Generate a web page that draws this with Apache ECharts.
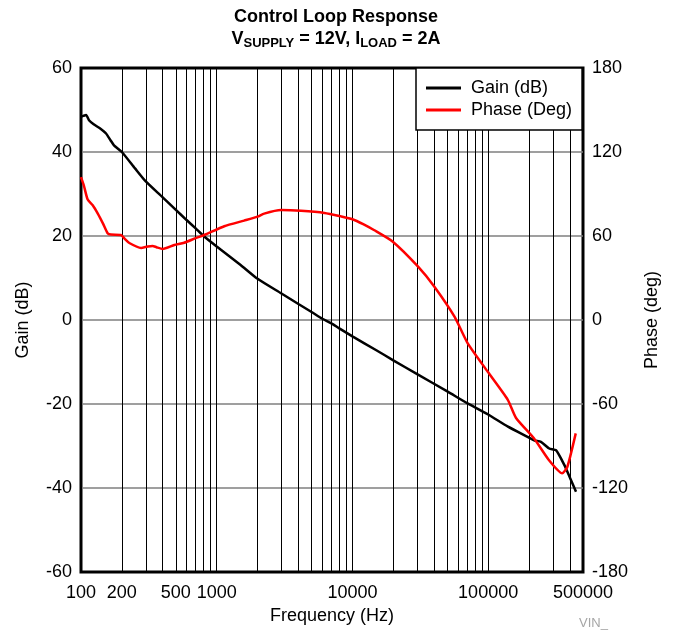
<!DOCTYPE html>
<html>
<head>
<meta charset="utf-8">
<script src="https://cdn.jsdelivr.net/npm/echarts@6/dist/echarts.min.js"></script>
<style>
  html, body { margin: 0; padding: 0; background: #fff; }
  #chart { width: 673px; height: 634px; }
</style>
</head>
<body>
<div id="chart"></div>
<script>
// values
const gainFreq = [100, 104, 109, 115, 124, 140, 153, 165, 175, 200, 250, 300, 400, 500, 600, 700, 800, 1000,
  1500, 2000, 3000, 4000, 5000, 6000, 7000, 8000, 10000, 15000, 20000, 30000, 50000, 70000, 100000,
  140000, 200000, 220000, 245000, 282000, 316000, 364000, 400000, 444000]
const gainDb = [48.4, 48.6, 48.8, 47.5, 46.6, 45.5, 44.4, 42.8, 41.6, 40.0, 36.1, 33.0, 29.2, 26.2, 23.8, 21.8, 20.0, 17.5,
  13.1, 9.8, 6.3, 3.8, 1.9, 0.3, -0.8, -2.0, -3.9, -7.2, -9.6, -12.9, -17.0, -19.8, -22.5,
  -25.4, -28.0, -28.7, -29.0, -30.6, -31.0, -34.5, -37.5, -40.9]

const phaseFreq = [100, 105, 112, 122, 133, 145, 157, 166, 197, 210, 227, 277, 310, 337, 360, 400, 487, 576, 700, 810,
  1137, 1593, 1997, 2237, 2977, 4177, 6220, 8260, 10000, 12000, 14400, 19750, 30470, 40180, 56510, 70730,
  99400, 139600, 160600, 217400, 280000, 351000, 383000, 442000]
const phaseDeg = [102, 96, 86, 82, 76, 69, 62, 61, 60.7, 58, 55, 51.5, 52.5, 52.9, 52, 50.8, 53.6, 55.2, 58.5, 60.7,
  67, 71, 73.8, 76, 78.5, 78, 76.5, 74, 72, 68.5, 64.3, 56.1, 38.1, 23.8, 2.4, -16.7,
  -37, -57, -70, -84.5, -100, -109.5, -105, -81]

const xGridValues = [100, 200, 300, 400, 500, 600, 700, 800, 900,
  1000, 2000, 3000, 4000, 5000, 6000, 7000, 8000, 9000,
  10000, 20000, 30000, 40000, 50000, 60000, 70000, 80000, 90000,
  100000, 200000, 300000, 400000, 500000]
const xLabelValues = [100, 200, 500, 1000, 10000, 100000, 500000]

const FONT = 'Liberation Sans'

const chart = echarts.init(document.getElementById('chart'))

const option = {
  animation: false,
  textStyle: { fontFamily: FONT },
  title: {
    text: '{b|Control Loop Response}\n{b|V}{s|SUPPLY}{b| = 12V, I}{s|LOAD}{b| = 2A}',
    left: 331,
    top: 1,
    textAlign: 'center',
    textStyle: {
      rich: {
        b: { fontFamily: FONT, fontSize: 18, fontWeight: 'bold', color: '#000', lineHeight: 22 },
        s: { fontFamily: FONT, fontSize: 13, fontWeight: 'bold', color: '#000', lineHeight: 22, padding: [8, 0, 0, 0] }
      }
    }
  },
  legend: {
    orient: 'vertical',
    left: 416,
    top: 68,
    padding: [11, 10, 11, 10],
    itemGap: 4,
    itemWidth: 35,
    itemHeight: 3,
    icon: 'rect',
    backgroundColor: '#fff',
    borderColor: '#000',
    borderWidth: 1.5,
    borderRadius: 0,
    textStyle: { fontFamily: FONT, fontSize: 18, color: '#000', padding: [0, 0, 0, 5] },
    data: ['Gain (dB)', 'Phase (Deg)']
  },
  grid: {
    left: 81,
    right: 90,
    top: 68,
    bottom: 62,
    show: true,
    borderColor: '#000',
    borderWidth: 3,
    backgroundColor: 'transparent'
  },
  xAxis: {
    type: 'log',
    logBase: 10,
    min: 100,
    max: 500000,
    name: 'Frequency (Hz)',
    nameLocation: 'middle',
    nameGap: 32,
    nameTextStyle: { fontFamily: FONT, fontSize: 18, color: '#000' },
    axisLine: { show: false },
    axisTick: { show: false, customValues: xGridValues },
    axisLabel: {
      customValues: xLabelValues,
      formatter: v => String(Math.round(v)),
      fontFamily: FONT,
      fontSize: 18,
      color: '#000',
      margin: 12
    },
    splitLine: { show: true, lineStyle: { color: '#000', width: 1 } }
  },
  yAxis: [
    {
      type: 'value',
      min: -60,
      max: 60,
      interval: 20,
      name: 'Gain (dB)',
      nameLocation: 'middle',
      nameRotate: 90,
      nameGap: 49,
      nameTextStyle: { fontFamily: FONT, fontSize: 18, color: '#000' },
      axisLine: { show: false },
      axisTick: { show: false },
      axisLabel: { fontFamily: FONT, fontSize: 18, color: '#000', margin: 9 },
      splitLine: { show: true, showMinLine: false, showMaxLine: false, lineStyle: { color: '#7f7f7f', width: 1.5 } }
    },
    {
      type: 'value',
      min: -180,
      max: 180,
      interval: 60,
      position: 'right',
      name: 'Phase (deg)',
      nameLocation: 'middle',
      nameRotate: 90,
      nameGap: 60,
      nameTextStyle: { fontFamily: FONT, fontSize: 18, color: '#000' },
      axisLine: { show: false },
      axisTick: { show: false },
      axisLabel: { fontFamily: FONT, fontSize: 18, color: '#000', margin: 9 },
      splitLine: { show: false }
    }
  ],
  graphic: [
    {
      type: 'text',
      left: 579,
      top: 617,
      style: { text: 'VIN_', fontFamily: FONT, fontSize: 13, fill: '#a6a6a6' }
    }
  ],
  series: [
    {
      name: 'Gain (dB)',
      type: 'line',
      yAxisIndex: 0,
      data: gainFreq.map((f, i) => [f, gainDb[i]]),
      smooth: 0.2,
      symbol: 'none',
      lineStyle: { color: '#000', width: 2.5 },
      itemStyle: { color: '#000' }
    },
    {
      name: 'Phase (Deg)',
      type: 'line',
      yAxisIndex: 1,
      data: phaseFreq.map((f, i) => [f, phaseDeg[i]]),
      smooth: 0.2,
      symbol: 'none',
      lineStyle: { color: '#ff0000', width: 2.5 },
      itemStyle: { color: '#ff0000' }
    }
  ]
}

chart.setOption(option)
</script>
</body>
</html>
